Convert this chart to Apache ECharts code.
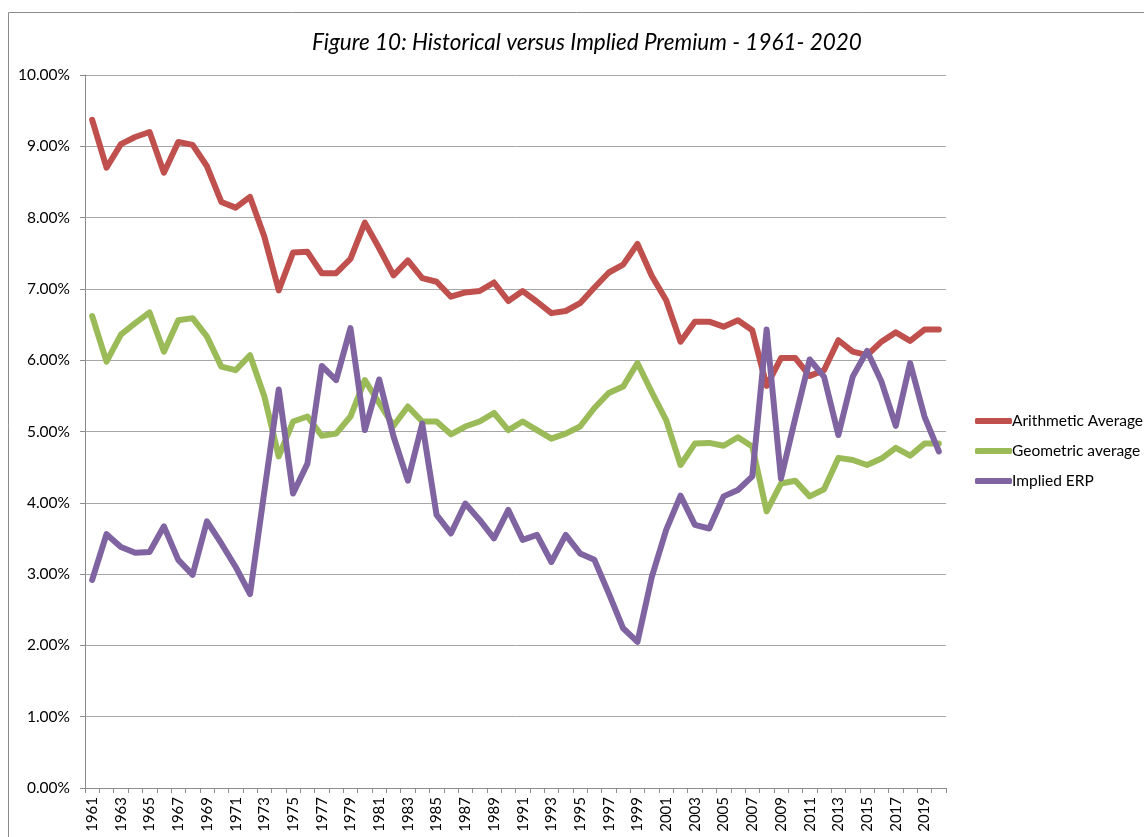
<!DOCTYPE html>
<html>
<head>
<meta charset="utf-8">
<script src="https://cdn.jsdelivr.net/npm/echarts@6/dist/echarts.min.js"></script>
<style>
  html, body { margin: 0; padding: 0; background: #fff; }
  #chart { width: 1144px; height: 837px; }
</style>
</head>
<body>
<div id="chart"></div>
<script>
// 年份
const years = [
  '1961', '1962', '1963', '1964', '1965', '1966', '1967', '1968', '1969', '1970',
  '1971', '1972', '1973', '1974', '1975', '1976', '1977', '1978', '1979', '1980',
  '1981', '1982', '1983', '1984', '1985', '1986', '1987', '1988', '1989', '1990',
  '1991', '1992', '1993', '1994', '1995', '1996', '1997', '1998', '1999', '2000',
  '2001', '2002', '2003', '2004', '2005', '2006', '2007', '2008', '2009', '2010',
  '2011', '2012', '2013', '2014', '2015', '2016', '2017', '2018', '2019', '2020'
]

// 算术平均
const arithmeticAvg = [
  9.37, 8.70, 9.03, 9.13, 9.20, 8.63, 9.06, 9.02, 8.72, 8.22,
  8.14, 8.29, 7.73, 6.98, 7.51, 7.52, 7.22, 7.22, 7.42, 7.93,
  7.57, 7.19, 7.40, 7.15, 7.10, 6.89, 6.95, 6.97, 7.09, 6.83,
  6.97, 6.82, 6.66, 6.69, 6.80, 7.02, 7.23, 7.34, 7.63, 7.18,
  6.84, 6.26, 6.54, 6.54, 6.47, 6.56, 6.42, 5.64, 6.03, 6.03,
  5.78, 5.86, 6.28, 6.12, 6.07, 6.26, 6.39, 6.27, 6.43, 6.43
]

// 几何平均
const geometricAvg = [
  6.62, 5.98, 6.36, 6.52, 6.67, 6.12, 6.56, 6.59, 6.33, 5.91,
  5.86, 6.07, 5.49, 4.65, 5.14, 5.21, 4.94, 4.97, 5.21, 5.72,
  5.40, 5.08, 5.35, 5.14, 5.14, 4.96, 5.07, 5.14, 5.26, 5.02,
  5.14, 5.02, 4.90, 4.97, 5.07, 5.33, 5.54, 5.63, 5.96, 5.55,
  5.16, 4.53, 4.83, 4.84, 4.80, 4.92, 4.79, 3.88, 4.27, 4.31,
  4.09, 4.19, 4.63, 4.60, 4.53, 4.62, 4.77, 4.66, 4.83, 4.83
]

// 隐含风险溢价
const impliedERP = [
  2.92, 3.56, 3.38, 3.30, 3.31, 3.67, 3.20, 2.99, 3.74, 3.43,
  3.10, 2.72, 4.16, 5.59, 4.13, 4.55, 5.92, 5.72, 6.45, 5.02,
  5.73, 4.93, 4.31, 5.11, 3.83, 3.57, 3.99, 3.76, 3.50, 3.90,
  3.48, 3.55, 3.17, 3.55, 3.29, 3.20, 2.73, 2.24, 2.05, 2.96,
  3.62, 4.10, 3.69, 3.64, 4.09, 4.18, 4.37, 6.43, 4.34, 5.19,
  6.01, 5.77, 4.95, 5.77, 6.13, 5.70, 5.08, 5.96, 5.21, 4.72
]

const seriesNames = ['Arithmetic Average', 'Geometric average', 'Implied ERP']
const seriesColors = ['#C0504D', '#9BBB59', '#8064A2']

const fontFamily = 'Lato, "Open Sans", sans-serif'

function lineSeries (name, data) {
  return {
    type: 'line',
    name: name,
    data: data,
    showSymbol: false,
    symbol: 'none',
    lineStyle: { width: 6, cap: 'round', join: 'round' },
    emphasis: { disabled: true }
  }
}

const chart = echarts.init(document.getElementById('chart'))
chart.setOption({
  animation: false,
  color: seriesColors,
  textStyle: { fontFamily: fontFamily },
  title: {
    text: 'Figure 10: Historical versus Implied Premium - 1961- 2020',
    left: 307,
    top: 26,
    textStyle: {
      fontFamily: fontFamily,
      fontStyle: 'italic',
      fontWeight: 'normal',
      fontSize: 22.5,
      color: '#000'
    }
  },
  graphic: [{
    type: 'rect',
    shape: { x: 8.5, y: 12.5, width: 1300, height: 1000 },
    style: { fill: 'none', stroke: '#8c8c8c', lineWidth: 1 },
    silent: true
  }],
  legend: {
    data: seriesNames,
    orient: 'vertical',
    left: 970,
    top: 408,
    itemWidth: 37,
    itemHeight: 6,
    itemGap: 14,
    icon: 'roundRect',
    textStyle: { fontFamily: fontFamily, fontSize: 15.5, color: '#000', padding: [0, 0, 0, -5] }
  },
  grid: {
    left: 85,
    right: 198,
    top: 75,
    bottom: 49,
    containLabel: false
  },
  xAxis: {
    type: 'category',
    data: years,
    boundaryGap: true,
    axisLine: { lineStyle: { color: '#8c8c8c', width: 1 } },
    axisTick: { show: true, length: 5, interval: 0, lineStyle: { color: '#8c8c8c' } },
    axisLabel: {
      interval: 1,
      rotate: 90,
      margin: 9,
      fontSize: 15,
      color: '#000',
      fontFamily: fontFamily
    },
    splitLine: { show: false }
  },
  yAxis: {
    type: 'value',
    min: 0,
    max: 10,
    interval: 1,
    axisLine: { show: true, lineStyle: { color: '#8c8c8c', width: 1 } },
    axisTick: { show: true, length: 5, lineStyle: { color: '#8c8c8c' } },
    axisLabel: {
      margin: 15,
      fontSize: 15.5,
      color: '#000',
      fontFamily: fontFamily,
      formatter: (v) => v.toFixed(2) + '%'
    },
    splitLine: { show: true, lineStyle: { color: '#a6a6a6', width: 1 } }
  },
  series: [
    lineSeries(seriesNames[0], arithmeticAvg),
    lineSeries(seriesNames[1], geometricAvg),
    lineSeries(seriesNames[2], impliedERP)
  ]
})
</script>
</body>
</html>
